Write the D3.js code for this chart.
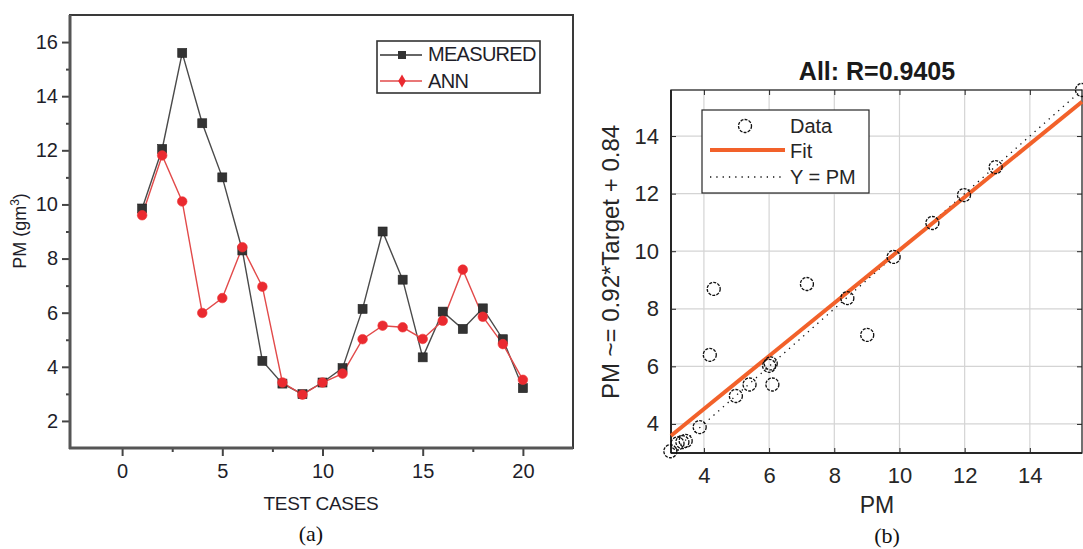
<!DOCTYPE html>
<html>
<head>
<meta charset="utf-8">
<script src="https://cdn.jsdelivr.net/npm/d3@7"></script>
<style>
  html, body { margin: 0; padding: 0; background: #fff; }
  svg { display: block; }
  text { font-family: "Liberation Sans", Arial, sans-serif; }
</style>
</head>
<body>
<svg id="fig" width="1083" height="549"></svg>
<script>
// ---- (a) measured vs ANN prediction per test case ----
const testCases = d3.range(1, 21);
const measured = [9.85, 12.05, 15.6, 13.0, 11.0, 8.3, 4.22, 3.38, 2.99, 3.42,
                  3.95, 6.14, 9.0, 7.22, 4.35, 6.04, 5.4, 6.16, 5.02, 3.21];
const ann      = [9.6, 11.81, 10.11, 5.99, 6.54, 8.42, 6.96, 3.42, 2.97, 3.42,
                  3.75, 5.02, 5.52, 5.46, 5.03, 5.7, 7.59, 5.85, 4.84, 3.52];
const xTicksA = [0, 5, 10, 15, 20];
const yTicksA = [2, 4, 6, 8, 10, 12, 14, 16];

// ---- (b) regression of network output against target ----
const targets = [2.97, 3.19, 3.34, 3.44, 3.87, 4.18, 4.3, 4.98, 5.4, 6.0, 6.05,
                 6.1, 7.16, 8.4, 9.01, 9.82, 11.01, 11.98, 12.95, 15.6];
const outputs = [3.05, 3.32, 3.37, 3.41, 3.89, 6.4, 8.69, 4.97, 5.37, 6.02, 6.1,
                 5.37, 8.86, 8.37, 7.09, 9.8, 10.98, 11.95, 12.92, 15.6];
const fitSlope = 0.92, fitOffset = 0.84;
const ticksB = [4, 6, 8, 10, 12, 14];

const svg = d3.select("#fig");

// ================= Panel (a) =================
const A = { left: 70, right: 573, top: 15, bottom: 448 };
const xa = d3.scaleLinear().domain([-2.6, 22.5]).range([A.left, A.right]);
const ya = d3.scaleLinear().domain([1, 17]).range([A.bottom, A.top]);
const ga = svg.append("g");

// frame: thin top/right, heavy left/bottom axes
ga.append("rect").attr("x", A.left).attr("y", A.top)
  .attr("width", A.right - A.left).attr("height", A.bottom - A.top)
  .attr("fill", "none").attr("stroke", "#3a3a3a").attr("stroke-width", 2);

const axLeft = d3.axisLeft(ya).tickValues(yTicksA).tickSize(8).tickPadding(4).tickFormat(d3.format("d"));
const axBottom = d3.axisBottom(xa).tickValues(xTicksA).tickSize(8).tickPadding(8).tickFormat(d3.format("d"));
const minorLeft = d3.axisLeft(ya).tickValues(d3.range(3, 17, 2)).tickSize(4).tickFormat("");
const minorBottom = d3.axisBottom(xa).tickValues([2.5, 7.5, 12.5, 17.5]).tickSize(4).tickFormat("");

function styleAxisA(g) {
  g.select(".domain").remove();
  g.selectAll(".tick line").attr("stroke", "#444").attr("stroke-width", 2);
  g.selectAll(".tick text").attr("fill", "#1e1e2a")
    .style("font-size", "20px").style("font-family", "Liberation Sans, Arial, sans-serif");
}
ga.append("g").attr("transform", `translate(${A.left},0)`).call(axLeft).call(styleAxisA);
ga.append("g").attr("transform", `translate(${A.left},0)`).call(minorLeft).call(styleAxisA);
ga.append("g").attr("transform", `translate(0,${A.bottom})`).call(axBottom).call(styleAxisA);
ga.append("g").attr("transform", `translate(0,${A.bottom})`).call(minorBottom).call(styleAxisA);

ga.append("line").attr("x1", A.left).attr("x2", A.left).attr("y1", A.top).attr("y2", A.bottom + 1)
  .attr("stroke", "#555").attr("stroke-width", 3);
ga.append("line").attr("x1", A.left - 1).attr("x2", A.right).attr("y1", A.bottom).attr("y2", A.bottom)
  .attr("stroke", "#555").attr("stroke-width", 3);

const lineA = d3.line().x((d, i) => xa(testCases[i])).y(d => ya(d));
ga.append("path").datum(measured).attr("d", lineA)
  .attr("fill", "none").attr("stroke", "#4a4a4a").attr("stroke-width", 1.4);
ga.append("path").datum(ann).attr("d", lineA)
  .attr("fill", "none").attr("stroke", "#e24a4a").attr("stroke-width", 1.4);

ga.selectAll("rect.meas").data(measured).join("rect").attr("class", "meas")
  .attr("x", (d, i) => xa(testCases[i]) - 4.5).attr("y", d => ya(d) - 4.5)
  .attr("width", 9).attr("height", 9).attr("fill", "#333").attr("stroke", "#222").attr("stroke-width", 0.6);
ga.selectAll("circle.ann").data(ann).join("circle").attr("class", "ann")
  .attr("cx", (d, i) => xa(testCases[i])).attr("cy", d => ya(d)).attr("r", 4.8)
  .attr("fill", "#ea2a30").attr("stroke", "#e33").attr("stroke-width", 0.6);

// legend
const legA = ga.append("g");
legA.append("rect").attr("x", 377).attr("y", 41).attr("width", 163).attr("height", 52)
  .attr("fill", "#fff").attr("stroke", "#333").attr("stroke-width", 1.6);
legA.append("line").attr("x1", 380).attr("x2", 422).attr("y1", 55).attr("y2", 55)
  .attr("stroke", "#333").attr("stroke-width", 1.4);
legA.append("rect").attr("x", 398).attr("y", 51).attr("width", 8).attr("height", 8).attr("fill", "#333");
legA.append("line").attr("x1", 380).attr("x2", 422).attr("y1", 81).attr("y2", 81)
  .attr("stroke", "#e24a4a").attr("stroke-width", 1.4);
legA.append("path").attr("d", d3.symbol(d3.symbolDiamond, 50)()).attr("transform", "translate(402,81)")
  .attr("fill", "#ea2a30");
legA.append("text").attr("x", 428).attr("y", 61).text("MEASURED")
  .style("font-size", "20px").style("letter-spacing", "-0.7px").attr("fill", "#1e1e2a");
legA.append("text").attr("x", 428).attr("y", 88).text("ANN")
  .style("font-size", "20px").style("letter-spacing", "-0.7px").attr("fill", "#1e1e2a");

// axis titles
ga.append("text").attr("x", 321).attr("y", 510).attr("text-anchor", "middle")
  .style("font-size", "19px").style("letter-spacing", "-0.3px").attr("fill", "#1e1e2a").text("TEST CASES");
const ylab = ga.append("text").attr("transform", "translate(26,231) rotate(-90)")
  .attr("text-anchor", "middle").style("font-size", "18px").attr("fill", "#1e1e2a");
ylab.append("tspan").text("PM (gm");
ylab.append("tspan").attr("dy", -7).style("font-size", "12px").text("3");
ylab.append("tspan").attr("dy", 7).text(")");

svg.append("text").attr("x", 311).attr("y", 541).attr("text-anchor", "middle")
  .style("font-family", "Liberation Serif, Times New Roman, serif").style("font-size", "22px")
  .attr("fill", "#111").text("(a)");

// ================= Panel (b) =================
const B = { left: 671, right: 1082, top: 90, bottom: 453 };
const dom = [2.99, 15.6];
const xb = d3.scaleLinear().domain(dom).range([B.left, B.right]);
const yb = d3.scaleLinear().domain(dom).range([B.bottom, B.top]);
const gb = svg.append("g");

// grid
gb.selectAll("line.gx").data(ticksB).join("line").attr("class", "gx")
  .attr("x1", d => xb(d)).attr("x2", d => xb(d)).attr("y1", B.top).attr("y2", B.bottom)
  .attr("stroke", "#d4d4d4").attr("stroke-width", 1.2);
gb.selectAll("line.gy").data(ticksB).join("line").attr("class", "gy")
  .attr("x1", B.left).attr("x2", B.right).attr("y1", d => yb(d)).attr("y2", d => yb(d))
  .attr("stroke", "#d4d4d4").attr("stroke-width", 1.2);

function styleAxisB(g) {
  g.select(".domain").remove();
  g.selectAll(".tick line").attr("stroke", "#262626").attr("stroke-width", 1);
  g.selectAll(".tick text").attr("fill", "#262626")
    .style("font-size", "22px").style("font-family", "Liberation Sans, Arial, sans-serif");
}
gb.append("g").attr("transform", `translate(${B.left},0)`)
  .call(d3.axisLeft(yb).tickValues(ticksB).tickSizeInner(-5).tickSizeOuter(0).tickPadding(12)).call(styleAxisB);
gb.append("g").attr("transform", `translate(0,${B.bottom})`)
  .call(d3.axisBottom(xb).tickValues(ticksB).tickSizeInner(-5).tickSizeOuter(0).tickPadding(14)).call(styleAxisB);
gb.append("g").attr("transform", `translate(${B.right},0)`)
  .call(d3.axisRight(yb).tickValues(ticksB).tickSizeInner(-5).tickSizeOuter(0).tickFormat("")).call(styleAxisB);
gb.append("g").attr("transform", `translate(0,${B.top})`)
  .call(d3.axisTop(xb).tickValues(ticksB).tickSizeInner(-5).tickSizeOuter(0).tickFormat("")).call(styleAxisB);

gb.append("rect").attr("x", B.left).attr("y", B.top)
  .attr("width", B.right - B.left).attr("height", B.bottom - B.top)
  .attr("fill", "none").attr("stroke", "#262626").attr("stroke-width", 1.3);
gb.append("line").attr("x1", B.left).attr("x2", B.left).attr("y1", B.top).attr("y2", B.bottom)
  .attr("stroke", "#262626").attr("stroke-width", 2);
gb.append("line").attr("x1", B.left).attr("x2", B.right).attr("y1", B.bottom).attr("y2", B.bottom)
  .attr("stroke", "#262626").attr("stroke-width", 2);

// Y = T reference (dotted) and fitted line
gb.append("line").attr("x1", xb(dom[0])).attr("y1", yb(dom[0])).attr("x2", xb(dom[1])).attr("y2", yb(dom[1]))
  .attr("stroke", "#111").attr("stroke-width", 1.3).attr("stroke-dasharray", "1.3,5");
gb.append("line")
  .attr("x1", xb(dom[0])).attr("y1", yb(fitSlope * dom[0] + fitOffset))
  .attr("x2", xb(dom[1])).attr("y2", yb(fitSlope * dom[1] + fitOffset))
  .attr("stroke", "#f2612a").attr("stroke-width", 4);

gb.selectAll("circle.pt").data(targets).join("circle").attr("class", "pt")
  .attr("cx", d => xb(d)).attr("cy", (d, i) => yb(outputs[i])).attr("r", 6.5)
  .attr("fill", "none").attr("stroke", "#111").attr("stroke-width", 1.3).attr("stroke-dasharray", "3,1.2");

// legend
const legB = gb.append("g");
legB.append("rect").attr("x", 702).attr("y", 110).attr("width", 167).attr("height", 83)
  .attr("fill", "#fff").attr("stroke", "#262626").attr("stroke-width", 1.2);
legB.append("circle").attr("cx", 745).attr("cy", 126).attr("r", 6.5)
  .attr("fill", "none").attr("stroke", "#111").attr("stroke-width", 1.3).attr("stroke-dasharray", "3,1.2");
legB.append("line").attr("x1", 710).attr("x2", 785).attr("y1", 150).attr("y2", 150)
  .attr("stroke", "#f2612a").attr("stroke-width", 4);
legB.append("line").attr("x1", 710).attr("x2", 785).attr("y1", 177).attr("y2", 177)
  .attr("stroke", "#111").attr("stroke-width", 1.3).attr("stroke-dasharray", "1.3,5");
[["Data", 133], ["Fit", 158], ["Y = PM", 184]].forEach(([t, y]) => {
  legB.append("text").attr("x", 790).attr("y", y).text(t)
    .style("font-size", "20px").attr("fill", "#262626");
});

gb.append("text").attr("x", 877).attr("y", 80).attr("text-anchor", "middle")
  .style("font-size", "25px").style("font-weight", "bold").attr("fill", "#1a1a1a").text("All: R=0.9405");
gb.append("text").attr("x", 877).attr("y", 513).attr("text-anchor", "middle")
  .style("font-size", "23px").attr("fill", "#262626").text("PM");
gb.append("text").attr("transform", "translate(619,262) rotate(-90)").attr("text-anchor", "middle")
  .style("font-size", "24px").attr("fill", "#262626").text("PM ~= 0.92*Target + 0.84");

svg.append("text").attr("x", 887).attr("y", 543).attr("text-anchor", "middle")
  .style("font-family", "Liberation Serif, Times New Roman, serif").style("font-size", "22px")
  .attr("fill", "#111").text("(b)");
</script>
</body>
</html>
